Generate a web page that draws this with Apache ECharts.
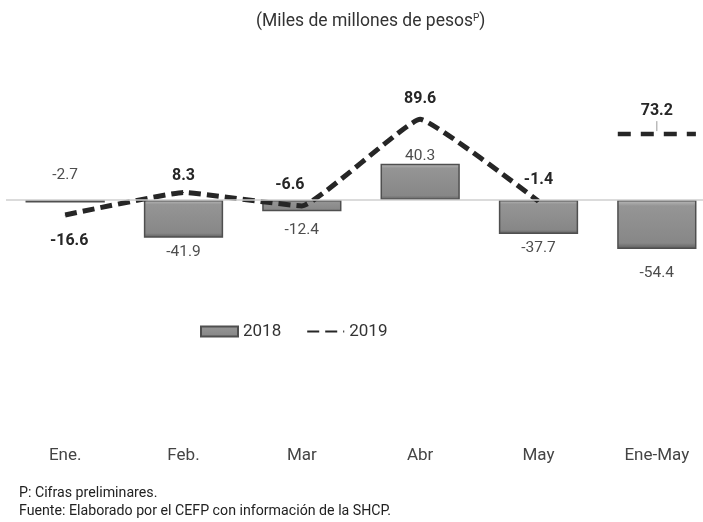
<!DOCTYPE html>
<html>
<head>
<meta charset="utf-8">
<script src="https://cdn.jsdelivr.net/npm/echarts@6/dist/echarts.min.js"></script>
<style>
  html, body { margin: 0; padding: 0; background: #fff; }
  #chart { width: 703px; height: 522px; }
</style>
</head>
<body>
<div id="chart"></div>
<script>
var categories = ['Ene.', 'Feb.', 'Mar', 'Abr', 'May', 'Ene-May'];
var values2018 = [-2.7, -41.9, -12.4, 40.3, -37.7, -54.4];
var values2019 = [-16.6, 8.3, -6.6, 89.6, -1.4, null];
var total2019 = 73.2;

var FONT = 'Roboto, "Noto Sans", sans-serif';

// label placement per point (style only)
var barLabelPos = ['top', 'bottom', 'bottom', 'top', 'bottom', 'bottom'];
var barLabelDist = [17, 6, 11, 0, 6, 16];
var lineLabelPos = ['bottom', 'top', 'top', 'top', 'top'];
var lineLabelDist = [18, 8, 12, 12, 13];
var lineLabelShift = [[4, 0], [0, 0], [-12, 0], [0, 0], [0, 0]];

var myChart = echarts.init(document.getElementById('chart'));

var barData = values2018.map(function (v, i) {
	return {
		value: v,
		label: { position: barLabelPos[i], distance: barLabelDist[i] }
	};
});

var lineData = values2019.map(function (v, i) {
	if (v === null) return '-';
	return {
		value: v,
		label: { position: lineLabelPos[i], distance: lineLabelDist[i], offset: lineLabelShift[i] }
	};
});

var option = {
	backgroundColor: '#fff',
	animation: false,
	title: {
		text: '(Miles de millones de pesos{sup|P})',
		left: 251,
		top: 8,
		textStyle: {
			fontFamily: FONT, fontSize: 17.5, fontWeight: 'normal', color: '#333',
			rich: { sup: { fontSize: 10, verticalAlign: 'top', padding: [0, 0, 8, 0], color: '#333', fontFamily: FONT } }
		}
	},
	legend: {
		top: 318,
		left: 195,
		itemWidth: 37,
		itemHeight: 10,
		itemGap: 25,
		textStyle: { fontFamily: FONT, fontSize: 17, color: '#333' },
		data: [
			{ name: '2018', icon: 'rect' },
			{ name: '2019', itemStyle: { opacity: 0 } }
		]
	},
	graphic: [
		{ type: 'text', left: 19, top: 486, style: { text: 'P: Cifras preliminares.', fontFamily: FONT, fontSize: 14.2, fill: '#222' } },
		{ type: 'text', left: 19, top: 504, style: { text: 'Fuente: Elaborado por el CEFP con información de la SHCP.', fontFamily: FONT, fontSize: 14.2, fill: '#222' } }
	],
	grid: { left: 6, width: 710, top: 101, bottom: 79, outerBoundsMode: 'none' },
	xAxis: {
		type: 'category',
		data: categories,
		axisLine: { show: false },
		axisTick: { show: false },
		axisLabel: { fontFamily: FONT, fontSize: 17, color: '#444', margin: 4 }
	},
	yAxis: {
		type: 'value',
		min: -270,
		max: 110,
		show: false,
		splitLine: { show: false }
	},
	series: [
		{
			name: '2018',
			type: 'bar',
			barWidth: '67%',
			data: barData,
			itemStyle: {
				color: new echarts.graphic.LinearGradient(0, 0, 0, 1, [
					{ offset: 0, color: '#bdbdbd' },
					{ offset: 0.12, color: '#959595' },
					{ offset: 0.88, color: '#878787' },
					{ offset: 1, color: '#5c5c5c' }
				]),
				borderColor: '#4f4f4f',
				borderWidth: 1.5
			},
			label: {
				show: true,
				fontFamily: FONT,
				fontSize: 15.5,
				color: '#4d4d4d'
			},
			markLine: {
				silent: true,
				symbol: 'none',
				label: { show: false },
				lineStyle: { color: '#cfcfcf', width: 1.5, type: 'solid' },
				data: [{ yAxis: 0 }]
			},
			z: 2
		},
		{
			name: '2019',
			type: 'line',
			data: lineData,
			smooth: 0.1,
			symbol: 'circle',
			symbolSize: 1,
			itemStyle: { color: '#262626' },
			lineStyle: { color: '#262626', width: 5, type: [12, 6] },
			label: {
				show: true,
				fontFamily: FONT,
				fontSize: 16,
				fontWeight: 'bold',
				color: '#262626'
			},
			z: 3
		},
		{
			name: '2019',
			type: 'custom',
			data: [[categories.length - 1, total2019]],
			renderItem: function (params, api) {
				var p = api.coord([api.value(0), api.value(1)]);
				var half = api.size([1, 0])[0] * 0.33;
				return {
					type: 'group',
					children: [
						{
							type: 'line',
							shape: { x1: p[0] - half, y1: p[1], x2: p[0] + half, y2: p[1] },
							style: { stroke: '#262626', lineWidth: 4.5, lineDash: [13, 10] }
						},
						{
							type: 'line',
							shape: { x1: p[0], y1: p[1] - 13, x2: p[0], y2: p[1] - 3 },
							style: { stroke: '#9a9a9a', lineWidth: 1 }
						},
						{
							type: 'text',
							style: {
								text: String(api.value(1)), x: p[0], y: p[1] - 15,
								align: 'center', verticalAlign: 'bottom',
								font: 'bold 16px ' + FONT, fill: '#262626'
							}
						}
					]
				};
			},
			z: 3
		}
	]
};

myChart.setOption(option);
</script>
</body>
</html>
